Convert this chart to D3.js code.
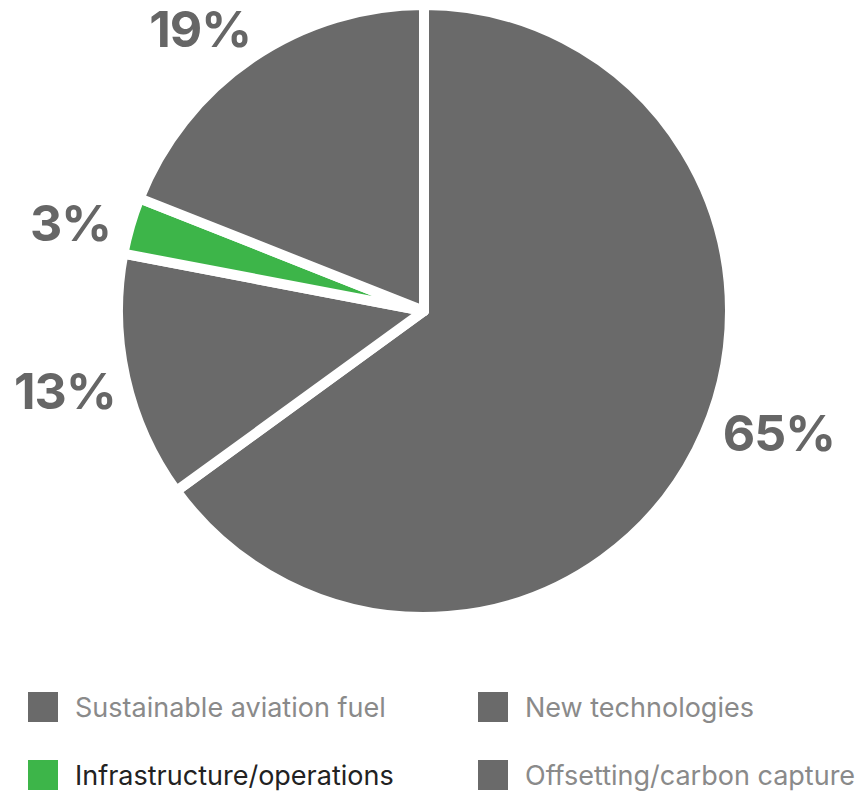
<!DOCTYPE html>
<html>
<head>
<meta charset="utf-8">
<script src="https://cdn.jsdelivr.net/npm/d3@7"></script>
<style>
  body { margin: 0; background: #fff; }
  svg { display: block; font-family: Inter, "Noto Sans", sans-serif; }
</style>
</head>
<body>
<div id="pie_chart"></div>
<script>
// data
var categories = ["Sustainable aviation fuel", "New technologies", "Infrastructure/operations", "Offsetting/carbon capture"];
var shares = [65, 13, 3, 19];
var labels = ["65%", "13%", "3%", "19%"];
var colors = ["#6a6a6a", "#6a6a6a", "#3db549", "#6a6a6a"];

// small nudges so the labels sit where the original has them
var labelNudge = [[27, -45], [0, 0], [0, 15], [-17, 22]];

var width = 863,
    height = 794,
    cx = 424,
    cy = 311,
    radius = 306,
    labelRadius = 368;

var svg = d3.select("#pie_chart")
  .append("svg")
    .attr("width", width)
    .attr("height", height);

var rows = categories.map(function(c, i) {
  return { name: c, value: shares[i], label: labels[i], color: colors[i], nudge: labelNudge[i] };
});

var pie = d3.pie()
  .sort(null)
  .value(function(d) { return d.value; });

var arc = d3.arc()
  .innerRadius(0)
  .outerRadius(radius);

var labelArc = d3.arc()
  .innerRadius(labelRadius)
  .outerRadius(labelRadius);

var g = svg.append("g")
  .attr("transform", "translate(" + cx + "," + cy + ")");

g.selectAll("path.slice")
  .data(pie(rows))
  .enter()
  .append("path")
    .attr("class", "slice")
    .attr("d", arc)
    .attr("fill", function(d) { return d.data.color; })
    .attr("stroke", "#fff")
    .attr("stroke-width", 10)
    .attr("stroke-linejoin", "round");

g.selectAll("text.pct")
  .data(pie(rows))
  .enter()
  .append("text")
    .attr("class", "pct")
    .attr("x", function(d) { return labelArc.centroid(d)[0] + d.data.nudge[0]; })
    .attr("y", function(d) { return labelArc.centroid(d)[1] + d.data.nudge[1]; })
    .attr("dy", "0.36em")
    .attr("text-anchor", "middle")
    .style("font-size", "50px")
    .style("font-weight", "bold")
    .style("letter-spacing", "-1px")
    .style("fill", "#666")
    .text(function(d) { return d.data.label; });

// legend, two columns
var legendX = d3.scaleOrdinal().domain([0, 1]).range([28, 478]);
var legendY = d3.scaleOrdinal().domain([0, 1]).range([692, 760]);

var legend = svg.selectAll("g.legend")
  .data(rows)
  .enter()
  .append("g")
    .attr("class", "legend")
    .attr("transform", function(d, i) {
      return "translate(" + legendX(i % 2) + "," + legendY(Math.floor(i / 2)) + ")";
    });

legend.append("rect")
  .attr("width", 30)
  .attr("height", 30)
  .attr("fill", function(d) { return d.color; });

legend.append("text")
  .attr("x", 47)
  .attr("y", 15)
  .attr("dy", "0.36em")
  .style("font-size", "27px")
  .style("font-weight", 400)
  .style("fill", function(d) { return d.color === "#3db549" ? "#222" : "#8a8a8a"; })
  .text(function(d) { return d.name; });
</script>
</body>
</html>
